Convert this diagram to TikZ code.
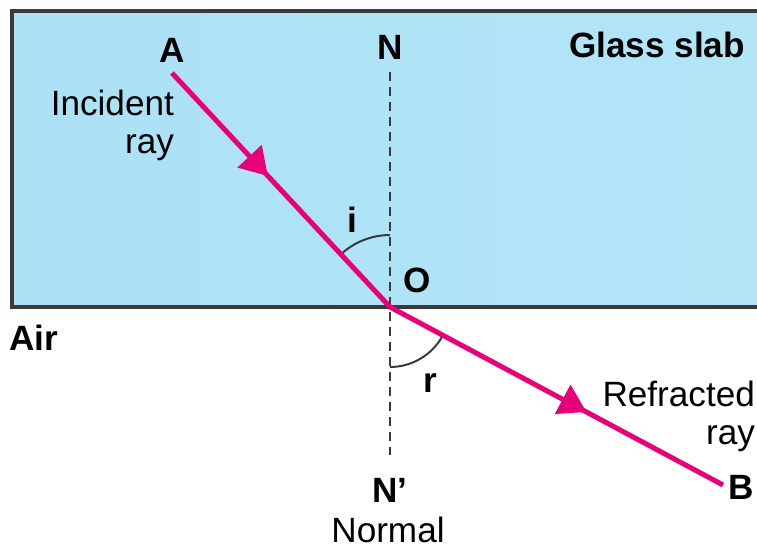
\documentclass[tikz,border=0pt]{standalone}
\usepackage{fontspec}
\setmainfont{Liberation Sans}
\usetikzlibrary{arrows.meta,decorations.markings}

\definecolor{raypink}{RGB}{232,0,122}
\definecolor{edgegray}{RGB}{58,58,58}
\definecolor{glassleft}{RGB}{172,225,246}
\definecolor{glassmid}{RGB}{194,237,248}
\definecolor{glassright}{RGB}{178,229,246}

\begin{document}
\begin{tikzpicture}[
    x=0.02cm, y=0.02cm,
    font=\fontsize{20}{21.6}\selectfont,
    label/.style={inner sep=1pt},
    boldlabel/.style={label, font=\fontsize{20}{21.6}\selectfont\bfseries},
    ray/.style={draw=raypink, line width=0.1cm},
    arrowmark/.style={postaction={decorate}, decoration={markings,
        mark=at position #1 with {\arrow{Triangle[length=0.54cm, width=0.64cm]}}}},
    normalline/.style={draw=edgegray, line width=0.05cm, dash pattern=on 0.18cm off 0.12cm},
    anglearc/.style={draw=edgegray, line width=0.04cm}
]
\clip (0,0) rectangle (757,-549);

% glass slab
\shade[left color=glassleft, middle color=glassmid, right color=glassright]
    (12,-11) rectangle (780,-307);
\draw[edgegray, line width=0.08cm] (12,-11) rectangle (780,-307);

% points of the rays
\coordinate (A) at (172,-73);
\coordinate (O) at (390,-307);
\coordinate (B) at (723,-485);

% labels
\node[boldlabel] (labA) at (172,-50) {A};
\node[boldlabel] (N) at (390,-47) {N};
\node[boldlabel] (glass) at (657,-45) {Glass slab};
\node[label, align=right, anchor=east] (incident) at (176,-125) {Incident\\ray};
\node[boldlabel] (labi) at (352,-220) {i};
\node[boldlabel] (labO) at (417,-280) {O};
\node[boldlabel] (air) at (34,-338) {Air};
\node[boldlabel] (labr) at (430,-383) {r};
\node[label, align=right, anchor=east] (refracted) at (757,-416) {Refracted\\ray};
\node[boldlabel] (labB) at (741,-487) {B};
\node[boldlabel] (Nprime) at (390,-490) {N’};
\node[label] (normal) at (388,-530) {Normal};

% normal
\draw[normalline, shorten <=6pt, shorten >=12pt] (N) -- (Nprime);

% angles
\draw[anglearc] (O) ++(90:1.44cm) arc[start angle=90, end angle=133, radius=1.44cm];
\draw[anglearc] (O) ++(270:1.2cm) arc[start angle=270, end angle=332, radius=1.2cm];

% rays
\path[ray, arrowmark=0.44] (A) -- (O);
\path[ray, arrowmark=0.59] (O) -- (B);
\end{tikzpicture}
\end{document}
